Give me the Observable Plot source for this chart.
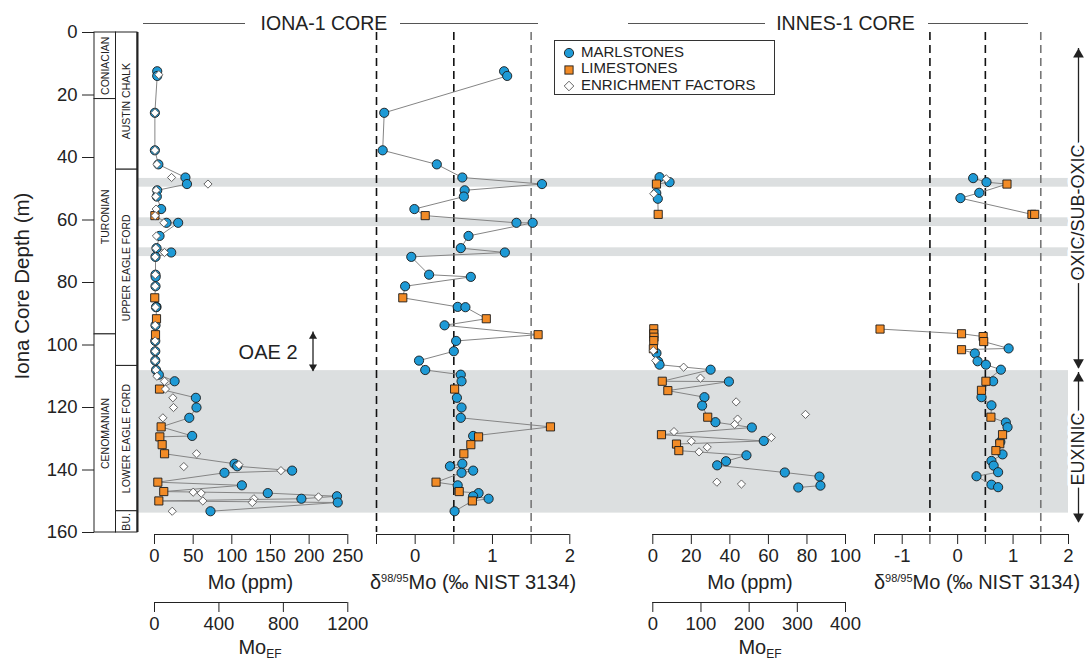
<!DOCTYPE html>
<html><head><meta charset="utf-8">
<script src="https://cdn.jsdelivr.net/npm/d3@7"></script>
<script src="https://cdn.jsdelivr.net/npm/@observablehq/plot@0.6"></script>
<style>
body{margin:0;background:#fff;}
#chart{position:relative;width:1088px;height:662px;font-family:"Liberation Sans",Arial,sans-serif;color:#222;overflow:hidden;background:#fff}
#chart svg{position:absolute;left:0;top:0;}
.t{position:absolute;white-space:nowrap;transform:translate(-50%,-50%);line-height:1}
.hl{position:absolute;height:0;border-top:1.5px solid #555}
</style></head><body><div id="chart"></div>
<script>
// ---------------- data ----------------
const depthTicks = [0,20,40,60,80,100,120,140,160];
const stageName = ["CONIACIAN","TURONIAN","CENOMANIAN"];
const stageTop  = [0,21.3,96.6];
const stageBase = [21.3,96.6,160];
const formationName = ["AUSTIN CHALK","UPPER EAGLE FORD","LOWER EAGLE FORD","BU."];
const formationTop  = [0,43.9,106.7,153.2];
const formationBase = [43.9,106.7,153.2,160];
const bandTop  = [46.7,59.3,68.9,108.2];
const bandBase = [49.5,62.1,71.7,153.8];
const regimeName = ["OXIC/SUB-OXIC","EUXINIC"];
const regimeTop  = [5.1,108.8];
const regimeBase = [107.5,156.8];
const regimeMid  = [57.6,133.3];
const oaeName = "OAE 2", oaeTop = 95.8, oaeBase = 108.4, oaeMid = 102.3;

// Iona-1: [depth m, Mo ppm, type]  M = marlstone, L = limestone
const ionaMo = [[12.4,3.5,"M"],[13.9,3.5,"M"],[25.7,0.5,"M"],[37.7,0.5,"M"],[42.2,5,"M"],[46.4,40,"M"],[48.5,42,"M"],[50.5,3.5,"M"],[52.5,3,"M"],[56.5,8.6,"M"],[58.6,0.5,"L"],[60.9,15.5,"M"],[60.9,30.6,"M"],[65.1,6.5,"M"],[69.0,2.6,"M"],[70.4,21.6,"M"],[71.8,1.3,"M"],[77.5,1.3,"M"],[78.2,1.5,"M"],[81.2,1.3,"M"],[84.9,0.3,"L"],[87.8,2.6,"M"],[87.9,2.0,"M"],[91.6,2.6,"L"],[93.7,1.3,"M"],[96.7,1.3,"L"],[98.7,1,"M"],[102,1,"M"],[105,1,"M"],[108,2,"M"],[109.5,5.6,"M"],[111.6,26,"M"],[114.1,6.5,"L"],[116.9,53.5,"M"],[120,54.3,"M"],[123.3,45,"M"],[126.2,8.6,"L"],[129.1,48.7,"M"],[129.4,6.9,"L"],[131.9,9.9,"L"],[134.8,13,"L"],[138,103.5,"M"],[138.8,107,"M"],[140.2,178,"M"],[140.9,90.5,"M"],[143.9,4.3,"L"],[144.9,113,"M"],[146.9,12,"L"],[147.4,146.5,"M"],[148.4,236,"M"],[149.2,190,"M"],[149.9,5.6,"L"],[150.4,237,"M"],[153.2,72.4,"M"]];
// Iona-1: [depth m, Mo EF]
const ionaEF = [[13.5,27],[25.7,3],[37.7,3],[42.2,15],[46.4,106],[48.5,332],[50.5,10],[52.5,8],[56.5,10],[58.6,4],[60.9,58],[65.1,12],[69,8],[70.4,62],[71.8,4],[77.5,5],[81.2,4],[87.9,6],[93.7,4],[98.7,4],[102,4],[105,4],[108,8],[110,15],[111.6,62],[114.1,68],[116.9,114],[120,118],[123.3,52],[134.8,261],[138.3,524],[138.9,182],[140.2,785],[147.1,240],[147.4,290],[148.6,1018],[149.2,617],[149.9,300],[150.4,607],[153.2,110]];
// Iona-1: [depth m, d98/95Mo permil, type]
const ionaDelta = [[12.4,1.15,"M"],[13.9,1.19,"M"],[25.7,-0.40,"M"],[37.7,-0.42,"M"],[42.2,0.28,"M"],[46.4,0.61,"M"],[48.5,1.64,"M"],[50.5,0.64,"M"],[52.5,0.63,"M"],[56.5,-0.01,"M"],[58.6,0.13,"L"],[60.9,1.31,"M"],[60.9,1.52,"M"],[65.1,0.69,"M"],[69.0,0.59,"M"],[70.4,1.16,"M"],[71.8,-0.05,"M"],[77.5,0.18,"M"],[78.2,0.72,"M"],[81.2,-0.13,"M"],[84.9,-0.16,"L"],[87.8,0.55,"M"],[87.9,0.65,"M"],[91.6,0.92,"L"],[93.7,0.38,"M"],[96.7,1.59,"L"],[98.7,0.53,"M"],[102,0.50,"M"],[105,0.05,"M"],[108,0.13,"M"],[109.5,0.59,"M"],[111.6,0.60,"M"],[114.1,0.51,"L"],[116.9,0.54,"M"],[120,0.60,"M"],[123.3,0.59,"M"],[126.2,1.75,"L"],[129.1,0.75,"M"],[129.4,0.82,"L"],[131.9,0.72,"L"],[134.8,0.63,"L"],[138,0.61,"M"],[138.8,0.45,"M"],[140.2,0.75,"M"],[140.9,0.60,"M"],[143.9,0.27,"L"],[144.9,0.55,"M"],[146.9,0.57,"L"],[147.4,0.82,"M"],[148.4,0.75,"M"],[149.2,0.95,"M"],[149.9,0.74,"L"],[153.2,0.51,"M"]];

// Innes-1
const innesMo = [[46.3,3.5,"M"],[47.9,8.7,"M"],[48.5,1.9,"L"],[51.4,1.8,"M"],[53.2,2.6,"M"],[58.2,2.8,"L"],[94.8,0.5,"L"],[96.4,0.5,"L"],[97.5,0.6,"L"],[98.6,0.5,"L"],[101.2,0.3,"L"],[102.6,1.9,"M"],[105.3,2.8,"M"],[106.3,3.5,"M"],[107.9,30,"M"],[111.6,4.9,"L"],[111.7,39.5,"M"],[114.6,7.8,"L"],[116.7,26.8,"M"],[119.4,25.6,"M"],[123.1,28.5,"L"],[124.7,32.5,"M"],[126.4,51.4,"M"],[128.7,4.5,"L"],[130.7,57.6,"M"],[131.7,12.3,"L"],[133.8,13.5,"L"],[135.3,48.6,"M"],[137.2,38,"M"],[138.5,33.4,"M"],[140.8,68.5,"M"],[142.1,86.5,"M"],[145,87,"M"],[145.6,75.5,"M"]];
const innesEF = [[46.8,28],[51.6,2],[101.8,1],[105,6],[107.1,64],[110.6,99],[118.2,173],[122.2,317],[123.7,176],[125.4,170],[127.7,44],[129.6,246],[130.8,80],[132.7,113],[134.2,96],[143.9,133],[144.5,184]];
const innesDelta = [[46.6,0.28,"M"],[47.9,0.52,"M"],[48.5,0.89,"L"],[51.3,0.39,"M"],[53.0,0.05,"M"],[58.2,1.34,"L"],[58.2,1.39,"L"],[94.9,-1.40,"L"],[96.4,0.07,"L"],[97.3,0.46,"L"],[98.9,0.47,"L"],[101.1,0.92,"M"],[101.5,0.07,"L"],[102.7,0.31,"M"],[105.2,0.36,"M"],[106.3,0.51,"M"],[107.9,0.78,"M"],[111.6,0.51,"L"],[111.6,0.64,"M"],[114.5,0.43,"L"],[116.7,0.43,"M"],[119.3,0.61,"M"],[123.1,0.60,"L"],[124.8,0.87,"M"],[126.3,0.90,"M"],[128.7,0.81,"L"],[131.0,0.77,"M"],[131.6,0.76,"L"],[133.8,0.69,"L"],[135.0,0.81,"M"],[137.1,0.61,"M"],[138.6,0.65,"M"],[140.7,0.73,"M"],[142.0,0.34,"M"],[144.7,0.61,"M"],[145.5,0.73,"M"]];

const ionaMoTicks = [0,50,100,150,200,250];
const ionaEFTicks = [0,400,800,1200];
const ionaDeltaTicks = [-0.5,0,0.5,1,1.5,2];
const innesMoTicks = [0,20,40,60,80,100];
const innesEFTicks = [0,100,200,300,400];
const innesDeltaTicks = [-1.5,-1,-0.5,0,0.5,1,1.5,2];
const dashBlack = [-0.5,0.5];
const dashGray = [1.5];

// ---------------- drawing ----------------
const W = 1088, H = 662, Y0 = 32, Y1 = 532;
const BLUE = "#1e9ad6", ORANGE = "#f28b26", INK = "#222", LINE = "#858585", BAND = "#dcdfe0";
const FONT = "Liberation Sans, Arial, sans-serif";
const chart = document.getElementById("chart");

const rows3 = a => a.map(([depth, value, type]) => ({depth, value, type}));
const rows2 = a => a.map(([depth, value]) => ({depth, value}));

function plot(domain, left, right, frameBottom, marks, xaxis = true) {
  const p = Plot.plot({
    width: W, height: H,
    marginTop: Y0, marginBottom: H - frameBottom, marginLeft: left, marginRight: W - right,
    x: xaxis ? {domain} : {domain, axis: null},
    y: {domain: [0, 160], range: [Y0, Y1], axis: null},
    style: {background: "none", overflow: "visible", fontFamily: FONT, fontSize: "18px", color: INK},
    marks
  });
  chart.appendChild(p);
  return p;
}
const axis = (ticks, fmt) => Plot.axisX({ticks, tickSize: 10, tickPadding: 4, fontSize: 18.5, color: INK, label: null, tickFormat: fmt || (d => String(d))});
const intOnly = d => Number.isInteger(d) ? String(d) : "";

function dataMarks(rows, line, z) {
  return [
    Plot.line(rows, {x: "value", y: "depth", z, stroke: LINE, strokeWidth: 1}),
    Plot.dot(rows.filter(d => d.type === "M"), {x: "value", y: "depth", r: 4.6, fill: BLUE, stroke: "#1a1a1a", strokeWidth: 0.9}),
    Plot.dot(rows.filter(d => d.type === "L"), {x: "value", y: "depth", symbol: "square", r: 4.6, fill: ORANGE, stroke: "#1a1a1a", strokeWidth: 0.9})
  ];
}
const efMarks = rows => Plot.dot(rows, {x: "value", y: "depth", symbol: "diamond2", r: 3.7, fill: "white", stroke: "#555", strokeWidth: 0.9});

// background: bands and regime arrows
const bands = bandTop.map((t, i) => ({top: t, base: bandBase[i]}));
const regimes = regimeName.map((n, i) => ({name: n, top: regimeTop[i], base: regimeBase[i], mid: regimeMid[i]}));
plot([0, 1], 138, 1068, Y1, [
  Plot.rect(bands, {x1: 0, x2: 1, y1: "top", y2: "base", fill: BAND}),
  Plot.ruleX(regimes, {x: 1, dx: 10, y1: "top", y2: "base", stroke: INK, strokeWidth: 1.3}),
  Plot.dot(regimes, {x: 1, dx: 10, y: "top", dy: 6, symbol: "triangle", r: 4, fill: INK, stroke: "none"}),
  Plot.dot(regimes, {x: 1, dx: 10, y: "base", dy: -6, symbol: "triangle", rotate: 180, r: 4, fill: INK, stroke: "none"}),
  Plot.text(regimes, {x: 1, dx: 10, y: "mid", text: "name", rotate: -90, fontSize: 18, fill: INK, stroke: "white", strokeWidth: 7})
], false);

// stratigraphic columns + depth axis
const stages = stageName.map((n, i) => ({name: n, top: stageTop[i], base: stageBase[i]}));
const forms = formationName.map((n, i) => ({name: n, top: formationTop[i], base: formationBase[i]}));
plot([0, 2], 94, 137, Y1, [
  Plot.rect(stages, {x1: 0, x2: 1, y1: "top", y2: "base", fill: "white", stroke: INK, strokeWidth: 1}),
  Plot.rect(forms, {x1: 1, x2: 2, y1: "top", y2: "base", fill: "white", stroke: INK, strokeWidth: 1}),
  Plot.ruleX([2], {y1: 0, y2: 160, stroke: INK, strokeWidth: 2}),
  Plot.text(stages, {x: 0.5, y: d => (d.top + d.base) / 2, text: "name", rotate: -90, fontSize: 10.5, fill: INK}),
  Plot.text(forms, {x: 1.5, y: d => (d.top + d.base) / 2, text: "name", rotate: -90, fontSize: 10.5, fill: INK}),
  Plot.axisY({anchor: "left", ticks: depthTicks, tickSize: 12, tickPadding: 5, fontSize: 18.5, color: INK, label: null})
], false);

// Iona Mo
plot([0, 250], 154, 347.3, 534, [
  Plot.ruleY([160], {x1: 0, x2: 250, dy: 2, stroke: INK, strokeWidth: 1.2}),
  axis(ionaMoTicks),
  ...dataMarks(rows3(ionaMo)),
  Plot.ruleX([oaeName], {x: 205, y1: oaeTop, y2: oaeBase, stroke: INK, strokeWidth: 1.3}),
  Plot.dot([oaeName], {x: 205, y: oaeTop, dy: 4.5, symbol: "triangle", r: 3, fill: INK, stroke: "none"}),
  Plot.dot([oaeName], {x: 205, y: oaeBase, dy: -4.5, symbol: "triangle", rotate: 180, r: 3, fill: INK, stroke: "none"}),
  Plot.text([oaeName], {x: 185, y: oaeMid, text: d => d, textAnchor: "end", fontSize: 20, fill: INK})
]);
// Iona Mo EF
plot([0, 1200], 154, 347.3, 602, [
  Plot.ruleY([160], {x1: 0, x2: 1200, dy: 70, stroke: INK, strokeWidth: 1.2}),
  axis(ionaEFTicks),
  efMarks(rows2(ionaEF))
]);
// Iona delta
plot([-0.5, 2], 376, 569.3, 534, [
  Plot.ruleX(dashBlack, {y1: 0, y2: 160, stroke: "#111", strokeWidth: 1.6, strokeDasharray: "8,5"}),
  Plot.ruleX(dashGray, {y1: 0, y2: 160, stroke: "#777", strokeWidth: 1.6, strokeDasharray: "8,5"}),
  Plot.ruleY([160], {x1: -0.5, x2: 2, dy: 2, stroke: INK, strokeWidth: 1.2}),
  axis(ionaDeltaTicks, intOnly),
  ...dataMarks(rows3(ionaDelta))
]);
// Innes Mo
const seg = d => d.depth < 80 ? "upper" : "lower";
plot([0, 100], 652.3, 845, 534, [
  Plot.ruleY([160], {x1: 0, x2: 100, dy: 2, stroke: INK, strokeWidth: 1.2}),
  axis(innesMoTicks),
  ...dataMarks(rows3(innesMo), true, seg)
]);
plot([0, 400], 652.3, 845, 602, [
  Plot.ruleY([160], {x1: 0, x2: 400, dy: 70, stroke: INK, strokeWidth: 1.2}),
  axis(innesEFTicks),
  efMarks(rows2(innesEF))
]);
// Innes delta
plot([-1.5, 2], 874, 1068, 534, [
  Plot.ruleX(dashBlack, {y1: 0, y2: 160, stroke: "#111", strokeWidth: 1.6, strokeDasharray: "8,5"}),
  Plot.ruleX(dashGray, {y1: 0, y2: 160, stroke: "#777", strokeWidth: 1.6, strokeDasharray: "8,5"}),
  Plot.ruleY([160], {x1: -1.5, x2: 2, dy: 2, stroke: INK, strokeWidth: 1.2}),
  axis(innesDeltaTicks, intOnly),
  ...dataMarks(rows3(innesDelta), true, seg)
]);

// ---------------- text outside the SVGs ----------------
function el(style, inner, cls) {
  const e = document.createElement("div");
  if (cls) e.className = cls;
  e.setAttribute("style", style);
  e.innerHTML = inner || "";
  chart.appendChild(e);
  return e;
}
// core titles
el("left:143px;top:22.5px;width:102px", "", "hl");
el("left:400px;top:22.5px;width:138px", "", "hl");
el("left:324px;top:24px;font-size:19.5px", "IONA-1 CORE", "t");
el("left:628px;top:22.5px;width:137px", "", "hl");
el("left:928px;top:22.5px;width:100px", "", "hl");
el("left:845.5px;top:24px;font-size:19.5px", "INNES-1 CORE", "t");
// y title
el("left:22px;top:286px;font-size:20.5px;transform:translate(-50%,-50%) rotate(-90deg)", "Iona Core Depth (m)", "t");
// axis titles
const dLab = 'δ<sup style="font-size:11px;vertical-align:7px;line-height:0">98/95</sup>Mo (‰ NIST 3134)';
el("left:250.5px;top:582px;font-size:20px", "Mo (ppm)", "t");
el("left:473px;top:582px;font-size:20px", dLab, "t");
el("left:260px;top:647px;font-size:20px", 'Mo<sub style="font-size:12px;vertical-align:-4px;line-height:0">EF</sub>', "t");
el("left:750px;top:582px;font-size:20px", "Mo (ppm)", "t");
el("left:977px;top:582px;font-size:20px", dLab, "t");
el("left:760px;top:647px;font-size:20px", 'Mo<sub style="font-size:12px;vertical-align:-4px;line-height:0">EF</sub>', "t");
// legend
const sym = {
  c: `<svg width="12" height="12" style="position:static"><circle cx="6" cy="6" r="4.6" fill="${BLUE}" stroke="#1a1a1a" stroke-width="0.9"/></svg>`,
  s: `<svg width="12" height="12" style="position:static"><rect x="1.9" y="1.9" width="8.2" height="8.2" fill="${ORANGE}" stroke="#1a1a1a" stroke-width="0.9"/></svg>`,
  d: `<svg width="12" height="12" style="position:static"><path d="M6,1.2L10.8,6L6,10.8L1.2,6Z" fill="white" stroke="#555" stroke-width="0.9"/></svg>`
};
const legendItems = [["c", "MARLSTONES"], ["s", "LIMESTONES"], ["d", "ENRICHMENT FACTORS"]];
const lg = el("position:absolute;left:554px;top:40px;width:219px;height:53px;border:1.5px solid #333;background:#fff");
legendItems.forEach(([k, name], i) => {
  const r = document.createElement("div");
  r.setAttribute("style", `position:absolute;left:8px;top:${10 + i * 16.5 - 8}px;height:16px;display:flex;align-items:center;font-size:15px;white-space:nowrap`);
  r.innerHTML = `<span style="width:12px;height:12px;display:inline-block;position:relative">${sym[k]}</span><span style="margin-left:6px">${name}</span>`;
  lg.appendChild(r);
});
</script></body></html>
